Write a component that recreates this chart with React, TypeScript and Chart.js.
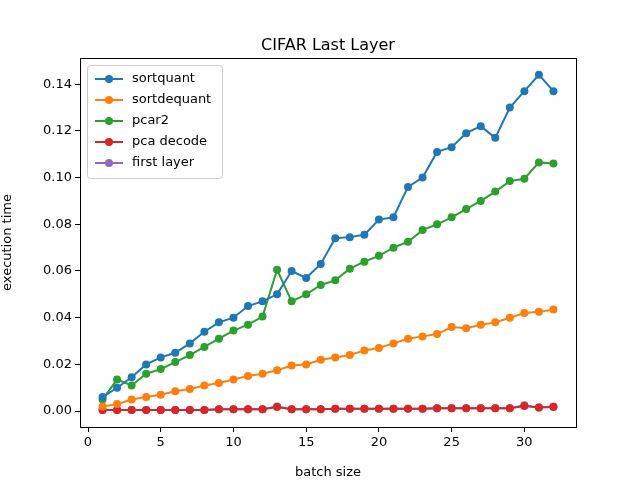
import React, { useEffect, useRef } from "react";
import { Chart, registerables } from "chart.js";
Chart.register(...registerables);

const batchSizes = Array.from({ length: 32 }, (_, i) => i + 1);
const sortquant = [0.006, 0.010, 0.0145, 0.020, 0.023, 0.025, 0.029, 0.034, 0.038, 0.040, 0.045, 0.047, 0.050, 0.060, 0.057, 0.063, 0.074, 0.0745, 0.0755, 0.082, 0.083, 0.096, 0.100, 0.111, 0.113, 0.119, 0.122, 0.117, 0.130, 0.137, 0.144, 0.137];
const sortdequant = [0.002, 0.003, 0.005, 0.006, 0.007, 0.0085, 0.0095, 0.011, 0.012, 0.0135, 0.015, 0.016, 0.0175, 0.0195, 0.020, 0.022, 0.023, 0.024, 0.026, 0.027, 0.029, 0.031, 0.032, 0.033, 0.036, 0.0355, 0.037, 0.038, 0.040, 0.042, 0.0425, 0.0435];
const pcar2 = [0.005, 0.0135, 0.011, 0.016, 0.018, 0.021, 0.024, 0.0275, 0.031, 0.0345, 0.037, 0.0405, 0.0605, 0.047, 0.050, 0.054, 0.056, 0.061, 0.064, 0.0665, 0.070, 0.0725, 0.0775, 0.080, 0.083, 0.0865, 0.090, 0.094, 0.0985, 0.0995, 0.1065, 0.106];
const pcaDecode = [0.0005, 0.0005, 0.0005, 0.0005, 0.0005, 0.0005, 0.0005, 0.0005, 0.0008, 0.0008, 0.0008, 0.0008, 0.0018, 0.0008, 0.0008, 0.0008, 0.001, 0.001, 0.001, 0.001, 0.001, 0.001, 0.001, 0.0012, 0.0012, 0.0012, 0.0012, 0.0012, 0.0012, 0.0022, 0.0015, 0.0018];
const firstLayer = [0.0005, 0.0005, 0.0005, 0.0005, 0.0005, 0.0005, 0.0005, 0.0005, 0.0008, 0.0008, 0.0008, 0.0008, 0.002, 0.0008, 0.0008, 0.0008, 0.001, 0.001, 0.001, 0.001, 0.001, 0.001, 0.001, 0.0012, 0.0012, 0.0012, 0.0012, 0.0012, 0.0012, 0.0025, 0.0015, 0.002];
const xTicks = [0, 5, 10, 15, 20, 25, 30];
const yTicks = [0, 0.02, 0.04, 0.06, 0.08, 0.1, 0.12, 0.14];

const series = [
  { label: "sortquant", data: sortquant, color: "#1f77b4" },
  { label: "sortdequant", data: sortdequant, color: "#ff7f0e" },
  { label: "pcar2", data: pcar2, color: "#2ca02c" },
  { label: "pca decode", data: pcaDecode, color: "#d62728" },
  { label: "first layer", data: firstLayer, color: "#9467bd" },
];

const FONT = "'DejaVu Sans', sans-serif";

export default function App() {
  const ref = useRef<HTMLCanvasElement>(null);
  useEffect(() => {
    document.body.style.margin = "0";
    const deco = {
      id: "deco",
      afterDraw(chart: any) {
        const { ctx, chartArea: a } = chart;
        ctx.save();
        ctx.strokeStyle = "#000";
        ctx.lineWidth = 1;
        ctx.strokeRect(a.left + 0.5, a.top + 0.5, a.right - a.left, a.bottom - a.top);
        ctx.fillStyle = "#000";
        ctx.font = `16px ${FONT}`;
        ctx.textAlign = "center";
        ctx.textBaseline = "alphabetic";
        ctx.fillText("CIFAR Last Layer", (a.left + a.right) / 2, a.top - 8);
        // legend
        const lx = a.left + 7, ly = a.top + 7, w = 135, rowH = 21;
        ctx.fillStyle = "rgba(255,255,255,0.8)";
        ctx.strokeStyle = "#ccc";
        ctx.beginPath();
        ctx.roundRect(lx + 0.5, ly + 0.5, w, rowH * series.length + 8, 3);
        ctx.fill();
        ctx.stroke();
        ctx.font = `13px ${FONT}`;
        ctx.textAlign = "left";
        ctx.textBaseline = "middle";
        series.forEach((s, i) => {
          const y = ly + 14 + i * rowH;
          ctx.strokeStyle = s.color;
          ctx.lineWidth = 2;
          ctx.beginPath();
          ctx.moveTo(lx + 8, y);
          ctx.lineTo(lx + 36, y);
          ctx.stroke();
          ctx.fillStyle = s.color;
          ctx.beginPath();
          ctx.arc(lx + 22, y, 4, 0, Math.PI * 2);
          ctx.fill();
          ctx.fillStyle = "#000";
          ctx.fillText(s.label, lx + 45, y);
        });
        ctx.restore();
      },
    };
    const chart = new Chart(ref.current!, {
      type: "line",
      data: {
        datasets: series.map((s) => ({
          label: s.label,
          data: s.data.map((v, i) => ({ x: batchSizes[i], y: v })),
          borderColor: s.color,
          backgroundColor: s.color,
          borderWidth: 2,
          pointRadius: 4,
          pointBorderWidth: 0,
          tension: 0,
        })),
      },
      options: {
        animation: false,
        responsive: false,
        layout: { padding: { top: 58, right: 64, left: 0, bottom: 0 } },
        plugins: { legend: { display: false }, title: { display: false }, tooltip: { enabled: false } },
        scales: {
          x: {
            type: "linear",
            min: -0.55,
            max: 33.55,
            afterBuildTicks: (s: any) => { s.ticks = xTicks.map((v) => ({ value: v })); },
            afterFit: (s: any) => { s.height = 53; },
            grid: { drawOnChartArea: false, tickLength: 5, color: "#000" },
            border: { display: false },
            ticks: { color: "#000", font: { family: FONT, size: 13 }, padding: 3, maxRotation: 0 },
            title: { display: true, text: "batch size", color: "#000", font: { family: FONT, size: 13 }, padding: 0 },
          },
          y: {
            min: -0.0068,
            max: 0.1512,
            afterBuildTicks: (s: any) => { s.ticks = yTicks.map((v) => ({ value: v })); },
            afterFit: (s: any) => { s.width = 80; },
            grid: { drawOnChartArea: false, tickLength: 5, color: "#000" },
            border: { display: false },
            ticks: { color: "#000", font: { family: FONT, size: 13 }, padding: 3, callback: (v: any) => Number(v).toFixed(2) },
            title: { display: true, text: "execution time", color: "#000", font: { family: FONT, size: 13 }, padding: 0 },
          },
        },
      },
      plugins: [deco],
    } as any);
    return () => chart.destroy();
  }, []);
  return <canvas ref={ref} width={640} height={480} style={{ display: "block" }} />;
}
